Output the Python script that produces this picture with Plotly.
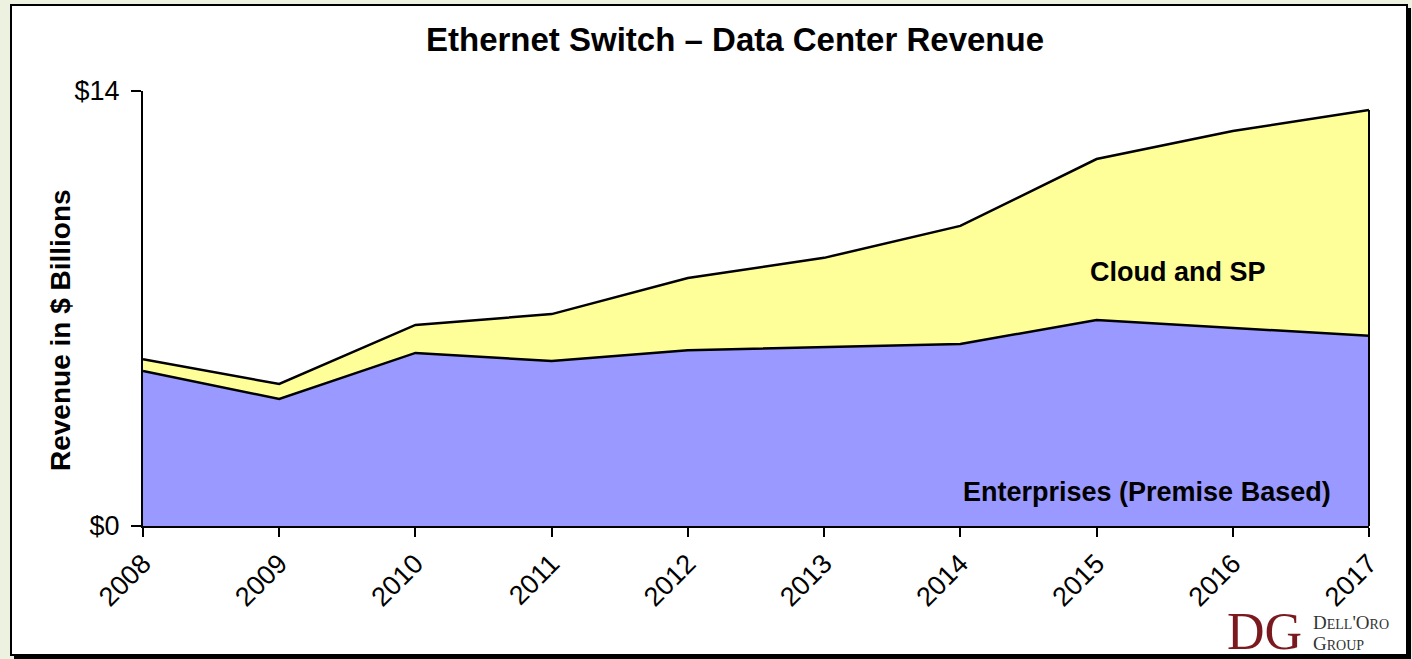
import plotly.graph_objects as go

years = ["2008", "2009", "2010", "2011", "2012", "2013", "2014", "2015", "2016", "2017"]
enterprise = [4.99, 4.09, 5.57, 5.31, 5.66, 5.76, 5.86, 6.63, 6.37, 6.12]
total = [5.37, 4.57, 6.47, 6.82, 7.98, 8.63, 9.66, 11.81, 12.71, 13.39]
cloud_sp = [round(t - e, 2) for t, e in zip(total, enterprise)]

W, H = 1412, 659
L, R, T, B = 143, 1369, 91, 526


def px(x):
    return (x - L) / (R - L)


def py(y):
    return (B - y) / (B - T)


fig = go.Figure()
fig.add_trace(go.Scatter(
    x=years, y=enterprise, stackgroup="one", mode="lines",
    line=dict(color="black", width=2.5), fillcolor="#9999FF", name="Enterprises (Premise Based)",
))
fig.add_trace(go.Scatter(
    x=years, y=cloud_sp, stackgroup="one", mode="lines",
    line=dict(color="black", width=2.5), fillcolor="#FFFF99", name="Cloud and SP",
))

shapes = [
    dict(type="rect", xref="paper", yref="paper", x0=px(14), x1=px(1411), y0=py(659), y1=py(8),
         fillcolor="black", line=dict(width=0), layer="below"),
    dict(type="rect", xref="paper", yref="paper", x0=px(11), x1=px(1407), y0=py(655), y1=py(5),
         fillcolor="white", line=dict(color="black", width=2), layer="below"),
    dict(type="line", xref="paper", yref="paper", x0=1, x1=1, y0=0, y1=py(110),
         line=dict(color="black", width=2)),
]

annotations = [
    dict(text="<b>Ethernet Switch – Data Center Revenue</b>", xref="paper", yref="paper",
         x=px(735), y=py(40), showarrow=False,
         font=dict(family="Liberation Sans, Arial", size=33, color="black"),
         xanchor="center", yanchor="middle"),
    dict(text="<b>Revenue in $ Billions</b>", xref="paper", yref="paper",
         x=px(60), y=py(330), showarrow=False, textangle=-90,
         font=dict(family="Liberation Sans, Arial", size=28, color="black"),
         xanchor="center", yanchor="middle"),
    dict(text="<b>Cloud and SP</b>", xref="paper", yref="paper", x=px(1178), y=py(272),
         showarrow=False, font=dict(family="Liberation Sans, Arial", size=27, color="black"),
         xanchor="center", yanchor="middle"),
    dict(text="<b>Enterprises (Premise Based)</b>", xref="paper", yref="paper", x=px(1147), y=py(492),
         showarrow=False, font=dict(family="Liberation Sans, Arial", size=27, color="black"),
         xanchor="center", yanchor="middle"),
    dict(text="DG", xref="paper", yref="paper", x=px(1264), y=py(631),
         showarrow=False, font=dict(family="Liberation Serif", size=52, color="#7A1A1F"),
         xanchor="center", yanchor="middle"),
    dict(text="D<span style='font-size:14px'>ELL</span>'O<span style='font-size:14px'>RO</span>",
         xref="paper", yref="paper", x=px(1311), y=py(622),
         showarrow=False, font=dict(family="Liberation Serif", size=19, color="#333333"),
         xanchor="left", yanchor="middle"),
    dict(text="G<span style='font-size:14px'>ROUP</span>",
         xref="paper", yref="paper", x=px(1311), y=py(643),
         showarrow=False, font=dict(family="Liberation Serif", size=19, color="#333333"),
         xanchor="left", yanchor="middle"),
]

fig.update_layout(
    width=W, height=H,
    margin=dict(l=L, r=W - R, t=T, b=H - B),
    paper_bgcolor="#EDF1E0",
    plot_bgcolor="rgba(0,0,0,0)",
    showlegend=False,
    shapes=shapes,
    annotations=annotations,
    xaxis=dict(
        type="category", range=[0, 9], showgrid=False, zeroline=False,
        showline=True, linecolor="black", linewidth=2,
        ticks="outside", ticklen=9, tickcolor="black", tickwidth=2,
        tickangle=-45, tickfont=dict(family="Liberation Sans, Arial", size=27, color="black"),
    ),
    yaxis=dict(
        range=[0, 14], tickvals=[0, 14], ticktext=["$0", "$14"], showgrid=False, zeroline=False,
        showline=True, linecolor="black", linewidth=2,
        ticks="outside", ticklen=10, tickcolor="black", tickwidth=2, ticklabelstandoff=6,
        tickfont=dict(family="Liberation Sans, Arial", size=27, color="black"),
    ),
)

fig.write_html("out.html", config={"displayModeBar": False},
               post_script="document.body.style.margin='0';document.body.style.overflow='hidden';")
